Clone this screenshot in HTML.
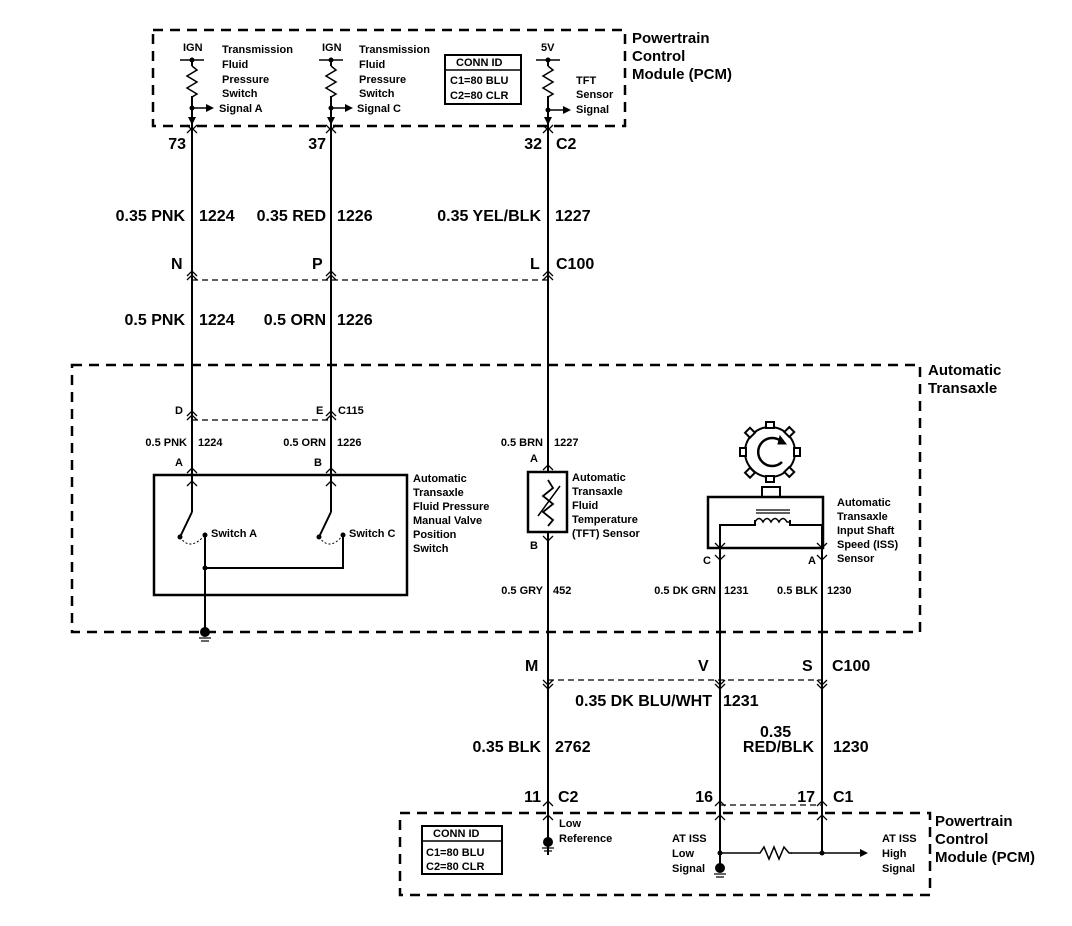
<!DOCTYPE html>
<html><head><meta charset="utf-8"><style>
html,body{margin:0;padding:0;background:#fff;}
svg{display:block;}
text{font-family:"Liberation Sans",Arial,sans-serif;font-weight:bold;fill:#000;}
.b{font-size:16px;}
.p{font-size:15px;}
.s{font-size:11px;}
</style></head><body>
<svg width="1072" height="926" viewBox="0 0 1072 926" xmlns="http://www.w3.org/2000/svg">
<g fill="none" stroke="#000">
<rect x="153" y="30" width="472" height="96" stroke-width="2.5" stroke-dasharray="10,7"/>
<rect x="72" y="365" width="848" height="267" stroke-width="2.5" stroke-dasharray="10,7"/>
<rect x="400" y="813" width="530" height="82" stroke-width="2.5" stroke-dasharray="10,7"/>
<line x1="192" y1="280" x2="548" y2="280" stroke-width="1.3" stroke-dasharray="6,4"/>
<line x1="192" y1="420" x2="331" y2="420" stroke-width="1.3" stroke-dasharray="6,4"/>
<line x1="548" y1="680" x2="822" y2="680" stroke-width="1.3" stroke-dasharray="6,4"/>
<line x1="720" y1="805" x2="822" y2="805" stroke-width="1.3" stroke-dasharray="6,4"/>
<g stroke-width="2">
<line x1="192" y1="60" x2="192" y2="512"/>
<line x1="331" y1="60" x2="331" y2="512"/>
<line x1="548" y1="60" x2="548" y2="474"/>
<line x1="548" y1="532" x2="548" y2="855"/>
<line x1="720" y1="548" x2="720" y2="870"/>
<line x1="822" y1="548" x2="822" y2="853"/>
</g>
<g stroke-width="1.5">
<line x1="180" y1="60" x2="204" y2="60"/><line x1="319" y1="60" x2="343" y2="60"/><line x1="536" y1="60" x2="560" y2="60"/>
</g>
<g stroke-width="1.5">
<rect x="188" y="66" width="8" height="30" fill="#fff" stroke="none"/>
<polyline points="192,66 197,70 187,76 197,82 187,88 197,94 192,97"/>
<rect x="327" y="66" width="8" height="30" fill="#fff" stroke="none"/>
<polyline points="331,66 336,70 326,76 336,82 326,88 336,94 331,97"/>
<rect x="544" y="66" width="8" height="30" fill="#fff" stroke="none"/>
<polyline points="548,66 553,70 543,76 553,82 543,88 553,94 548,97"/>
<line x1="192" y1="108" x2="208" y2="108"/><line x1="331" y1="108" x2="347" y2="108"/><line x1="548" y1="110" x2="565" y2="110"/>
</g>
<g stroke-width="1.3">
<polyline points="187,125 192,130 197,125"/><polyline points="326,125 331,130 336,125"/><polyline points="543,125 548,130 553,125"/>
<polyline points="187,133 192,128 197,133"/><polyline points="326,133 331,128 336,133"/><polyline points="543,133 548,128 553,133"/>
<polyline points="187,276 192,271 197,276"/><polyline points="187,280 192,275 197,280"/>
<polyline points="326,276 331,271 336,276"/><polyline points="326,280 331,275 336,280"/>
<polyline points="543,276 548,271 553,276"/><polyline points="543,280 548,275 553,280"/>
<polyline points="187,416 192,411 197,416"/><polyline points="187,420 192,415 197,420"/>
<polyline points="326,416 331,411 336,416"/><polyline points="326,420 331,415 336,420"/>
<polyline points="187,473 192,468 197,473"/><polyline points="326,473 331,468 336,473"/>
<polyline points="187,486 192,481 197,486"/><polyline points="326,486 331,481 336,486"/>
<polyline points="543,470 548,465 553,470"/><polyline points="543,481 548,476 553,481"/>
<polyline points="543,536 548,541 553,536"/><polyline points="543,524 548,529 553,524"/>
<polyline points="543,680 548,685 553,680"/><polyline points="543,684 548,689 553,684"/>
<polyline points="715,680 720,685 725,680"/><polyline points="715,684 720,689 725,684"/>
<polyline points="817,680 822,685 827,680"/><polyline points="817,684 822,689 827,684"/>
<polyline points="715,555 720,560 725,555"/><polyline points="817,555 822,560 827,555"/>
<polyline points="715,543 720,548 725,543"/><polyline points="817,543 822,548 827,543"/>
<polyline points="543,806 548,801 553,806"/><polyline points="715,806 720,801 725,806"/><polyline points="817,806 822,801 827,806"/>
<polyline points="543,820 548,815 553,820"/><polyline points="715,820 720,815 725,820"/><polyline points="817,820 822,815 827,820"/>
</g>
<rect x="445" y="55" width="76" height="49" stroke-width="2"/><line x1="445" y1="70" x2="521" y2="70" stroke-width="1.5"/>
<rect x="422" y="826" width="80" height="48" stroke-width="2"/><line x1="422" y1="841" x2="502" y2="841" stroke-width="1.5"/>
<rect x="154" y="475" width="253" height="120" stroke-width="2.5"/>
<g stroke-width="2">
<line x1="192" y1="512" x2="180" y2="537"/><line x1="331" y1="512" x2="319" y2="537"/>
<polyline points="205,535 205,568 343,568 343,535"/>
<line x1="205" y1="568" x2="205" y2="628"/>
</g>
<path d="M180,537 Q190,552 205,535" stroke-width="1" stroke-dasharray="2,2"/>
<path d="M319,537 Q330,552 343,535" stroke-width="1" stroke-dasharray="2,2"/>
<rect x="528" y="472" width="39" height="60" stroke-width="2.5" fill="#fff"/>
<polyline points="548,480 553,488 543,496 553,504 543,512 553,520 548,526" stroke-width="1.8"/>
<line x1="538" y1="516" x2="560" y2="486" stroke-width="1.5"/>
<circle cx="770" cy="452" r="25" stroke-width="2"/>
<path d="M782,442 A14,14 0 1 0 782,462" stroke-width="2.5"/>
<polygon points="780,436 786,444 778,444" fill="#000"/>
<g stroke-width="2" fill="#fff">
<rect x="766" y="422" width="8" height="6"/>
<rect x="766" y="476" width="8" height="6"/>
<rect x="740" y="448" width="6" height="8"/>
<rect x="794" y="448" width="6" height="8"/>
<rect x="747" y="429" width="7" height="7" transform="rotate(45 750 432)"/>
<rect x="786" y="429" width="7" height="7" transform="rotate(45 790 432)"/>
<rect x="747" y="469" width="7" height="7" transform="rotate(45 750 472)"/>
<rect x="786" y="469" width="7" height="7" transform="rotate(45 790 472)"/>
</g>
<rect x="762" y="487" width="18" height="10" stroke-width="2"/>
<rect x="708" y="497" width="115" height="51" stroke-width="2.5"/>
<polyline points="720,548 720,525 755,525 755,520" stroke-width="2"/>
<polyline points="822,548 822,525 790,525 790,520" stroke-width="2"/>
<path d="M755,522 q4,-7 8,0 q4,-7 8,0 q4,-7 8,0 q4,-7 8,0 l3,0" stroke-width="1.5"/>
<line x1="756" y1="513" x2="790" y2="513" stroke-width="1.2"/><line x1="756" y1="510" x2="790" y2="510" stroke-width="1.2"/>
<line x1="720" y1="853" x2="822" y2="853" stroke-width="1.5"/>
<rect x="755" y="846" width="36" height="14" fill="#fff" stroke="none"/>
<polyline points="755,853 760,853 764,847 769,859 774,847 779,859 784,847 789,853 792,853" stroke-width="1.5"/>
<line x1="822" y1="853" x2="862" y2="853" stroke-width="1.5"/>
</g>
<g fill="#000">
<circle cx="192" cy="60" r="2.5"/><circle cx="331" cy="60" r="2.5"/><circle cx="548" cy="60" r="2.5"/>
<circle cx="192" cy="108" r="2.5"/><circle cx="331" cy="108" r="2.5"/><circle cx="548" cy="110" r="2.5"/>
<polygon points="206,104 214,108 206,112"/><polygon points="345,104 353,108 345,112"/><polygon points="563,106 571,110 563,114"/>
<polygon points="188,117 192,125 196,117"/><polygon points="327,117 331,125 335,117"/><polygon points="544,117 548,125 552,117"/>
<circle cx="180" cy="537" r="2.5"/><circle cx="205" cy="535" r="2.5"/><circle cx="319" cy="537" r="2.5"/><circle cx="343" cy="535" r="2.5"/>
<circle cx="205" cy="568" r="2.5"/>
<circle cx="205" cy="632" r="5"/><circle cx="548" cy="842" r="5"/><circle cx="720" cy="868" r="5"/>
<circle cx="720" cy="853" r="2.5"/><circle cx="822" cy="853" r="2.5"/>
<polygon points="860,849 868,853 860,857"/>
</g>
<g stroke="#000" stroke-width="1.2">
<line x1="199" y1="638" x2="211" y2="638"/><line x1="201" y1="641" x2="209" y2="641"/>
<line x1="542" y1="848" x2="554" y2="848"/><line x1="544" y1="851" x2="552" y2="851"/>
<line x1="714" y1="874" x2="726" y2="874"/><line x1="716" y1="877" x2="724" y2="877"/>
</g>
<text class="p" x="632" y="43">Powertrain</text>
<text class="p" x="632" y="61">Control</text>
<text class="p" x="632" y="79">Module (PCM)</text>
<text class="s" x="183" y="51">IGN</text><text class="s" x="322" y="51">IGN</text><text class="s" x="541" y="51">5V</text>
<text class="s" x="222" y="53">Transmission</text><text class="s" x="222" y="68">Fluid</text><text class="s" x="222" y="83">Pressure</text><text class="s" x="222" y="97">Switch</text><text class="s" x="219" y="112">Signal A</text>
<text class="s" x="359" y="53">Transmission</text><text class="s" x="359" y="68">Fluid</text><text class="s" x="359" y="83">Pressure</text><text class="s" x="359" y="97">Switch</text><text class="s" x="357" y="112">Signal C</text>
<text class="s" x="576" y="84">TFT</text><text class="s" x="576" y="98">Sensor</text><text class="s" x="576" y="113">Signal</text>
<text class="s" x="456" y="66">CONN ID</text><text class="s" x="450" y="84">C1=80 BLU</text><text class="s" x="450" y="99">C2=80 CLR</text>
<text class="b" x="186" y="149" text-anchor="end">73</text><text class="b" x="326" y="149" text-anchor="end">37</text><text class="b" x="542" y="149" text-anchor="end">32</text><text class="b" x="556" y="149">C2</text>
<text class="b" x="185" y="221" text-anchor="end">0.35 PNK</text><text class="b" x="199" y="221">1224</text>
<text class="b" x="326" y="221" text-anchor="end">0.35 RED</text><text class="b" x="337" y="221">1226</text>
<text class="b" x="541" y="221" text-anchor="end">0.35 YEL/BLK</text><text class="b" x="555" y="221">1227</text>
<text class="b" x="171" y="269">N</text><text class="b" x="312" y="269">P</text><text class="b" x="530" y="269">L</text><text class="b" x="556" y="269">C100</text>
<text class="b" x="185" y="325" text-anchor="end">0.5 PNK</text><text class="b" x="199" y="325">1224</text>
<text class="b" x="326" y="325" text-anchor="end">0.5 ORN</text><text class="b" x="337" y="325">1226</text>
<text class="p" x="928" y="375">Automatic</text><text class="p" x="928" y="393">Transaxle</text>
<text class="s" x="175" y="414">D</text><text class="s" x="316" y="414">E</text><text class="s" x="338" y="414">C115</text>
<text class="s" x="187" y="446" text-anchor="end">0.5 PNK</text><text class="s" x="198" y="446">1224</text>
<text class="s" x="326" y="446" text-anchor="end">0.5 ORN</text><text class="s" x="337" y="446">1226</text>
<text class="s" x="543" y="446" text-anchor="end">0.5 BRN</text><text class="s" x="554" y="446">1227</text>
<text class="s" x="175" y="466">A</text><text class="s" x="314" y="466">B</text><text class="s" x="530" y="462">A</text><text class="s" x="530" y="549">B</text>
<text class="s" x="413" y="482">Automatic</text><text class="s" x="413" y="496">Transaxle</text><text class="s" x="413" y="510">Fluid Pressure</text><text class="s" x="413" y="524">Manual Valve</text><text class="s" x="413" y="538">Position</text><text class="s" x="413" y="552">Switch</text>
<text class="s" x="211" y="537">Switch A</text><text class="s" x="349" y="537">Switch C</text>
<text class="s" x="572" y="481">Automatic</text><text class="s" x="572" y="495">Transaxle</text><text class="s" x="572" y="509">Fluid</text><text class="s" x="572" y="523">Temperature</text><text class="s" x="572" y="537">(TFT) Sensor</text>
<text class="s" x="837" y="506">Automatic</text><text class="s" x="837" y="520">Transaxle</text><text class="s" x="837" y="534">Input Shaft</text><text class="s" x="837" y="548">Speed (ISS)</text><text class="s" x="837" y="562">Sensor</text>
<text class="s" x="703" y="564">C</text><text class="s" x="808" y="564">A</text>
<text class="s" x="543" y="594" text-anchor="end">0.5 GRY</text><text class="s" x="553" y="594">452</text>
<text class="s" x="716" y="594" text-anchor="end">0.5 DK GRN</text><text class="s" x="724" y="594">1231</text>
<text class="s" x="818" y="594" text-anchor="end">0.5 BLK</text><text class="s" x="827" y="594">1230</text>
<text class="b" x="525" y="671">M</text><text class="b" x="698" y="671">V</text><text class="b" x="802" y="671">S</text><text class="b" x="832" y="671">C100</text>
<text class="b" x="712" y="706" text-anchor="end">0.35 DK BLU/WHT</text><text class="b" x="723" y="706">1231</text>
<text class="b" x="541" y="752" text-anchor="end">0.35 BLK</text><text class="b" x="555" y="752">2762</text>
<text class="b" x="760" y="737">0.35</text><text class="b" x="814" y="752" text-anchor="end">RED/BLK</text><text class="b" x="833" y="752">1230</text>
<text class="b" x="541" y="802" text-anchor="end">11</text><text class="b" x="558" y="802">C2</text>
<text class="b" x="713" y="802" text-anchor="end">16</text><text class="b" x="815" y="802" text-anchor="end">17</text><text class="b" x="833" y="802">C1</text>
<text class="p" x="935" y="826">Powertrain</text><text class="p" x="935" y="844">Control</text><text class="p" x="935" y="862">Module (PCM)</text>
<text class="s" x="433" y="837">CONN ID</text><text class="s" x="426" y="856">C1=80 BLU</text><text class="s" x="426" y="870">C2=80 CLR</text>
<text class="s" x="559" y="827">Low</text><text class="s" x="559" y="842">Reference</text>
<text class="s" x="672" y="842">AT ISS</text><text class="s" x="672" y="857">Low</text><text class="s" x="672" y="872">Signal</text>
<text class="s" x="882" y="842">AT ISS</text><text class="s" x="882" y="857">High</text><text class="s" x="882" y="872">Signal</text>
</svg>
</body></html>
